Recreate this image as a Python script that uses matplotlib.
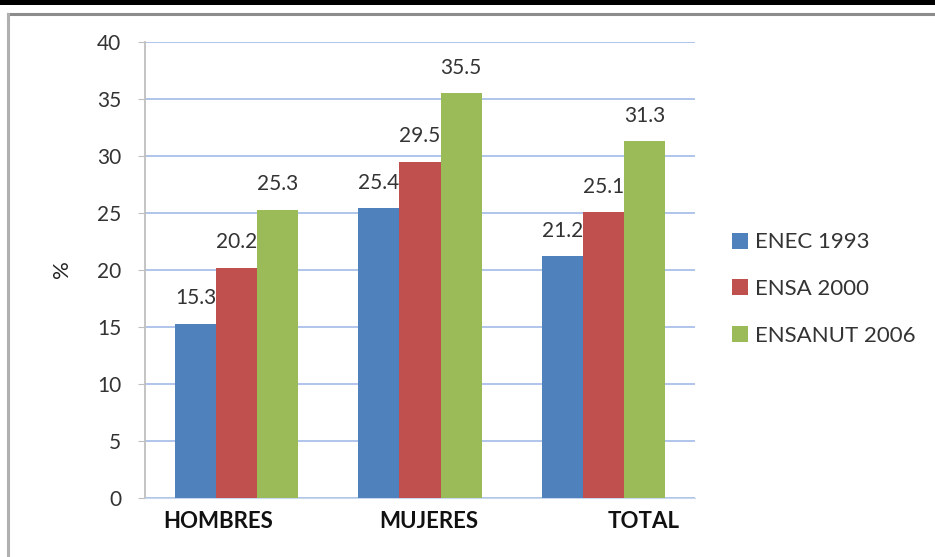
import matplotlib
matplotlib.use("Agg")
import matplotlib.pyplot as plt
from matplotlib.patches import Rectangle
from matplotlib.lines import Line2D
from matplotlib.transforms import ScaledTranslation
import numpy as np

plt.rcParams['font.family'] = ['Lato', 'DejaVu Sans']

categories = ["HOMBRES", "MUJERES", "TOTAL"]
series_names = ["ENEC 1993", "ENSA 2000", "ENSANUT 2006"]
enec_1993 = [15.3, 25.4, 21.2]
ensa_2000 = [20.2, 29.5, 25.1]
ensanut_2006 = [25.3, 35.5, 31.3]
colors = ["#4F81BD", "#C0504D", "#9BBB59"]
y_ticks = [0, 5, 10, 15, 20, 25, 30, 35, 40]

W, H = 935, 557
fig = plt.figure(figsize=(W / 100, H / 100), dpi=100)
fig.patch.set_facecolor("white")

# outer decorations: black band on top and grey frame
fig.add_artist(Rectangle((0, 1 - 5 / H), 1, 5 / H, transform=fig.transFigure,
                         facecolor="black", edgecolor="none"))
fig.add_artist(Line2D([8 / W, 1], [1 - 13.5 / H, 1 - 13.5 / H], transform=fig.transFigure,
                      color="#8C8C8C", lw=2.2))
fig.add_artist(Line2D([8 / W, 8 / W], [0, 1 - 13.5 / H], transform=fig.transFigure,
                      color="#B0B0B0", lw=2.2))

ax = fig.add_axes([145 / W, 1 - 498 / H, 550 / W, 456 / H])
x = np.arange(len(categories))
width = 0.224
for i, (vals, name, col) in enumerate(zip([enec_1993, ensa_2000, ensanut_2006], series_names, colors)):
    pos = x + (i - 1) * width
    ax.bar(pos, vals, width, color=col, label=name, zorder=3)
    for xp, v in zip(pos, vals):
        ax.annotate(f"{v:.1f}", (xp, v), xytext=(0, 11), textcoords="offset points",
                    ha="center", va="bottom", fontsize=15, color="#333333")

ax.set_xlim(-0.5, 2.5)
ax.set_ylim(0, 40)
ax.set_yticks(y_ticks)
ax.set_yticklabels([str(t) for t in y_ticks], fontsize=15, color="#333333")
ax.grid(axis="y", color="#A9C0E8", lw=1.3, zorder=0)
ax.set_axisbelow(True)
for s in ["top", "right"]:
    ax.spines[s].set_visible(False)
ax.spines["bottom"].set_color("#C8D6EE")
ax.spines["left"].set_color("#BFBFBF")
ax.spines["left"].set_linewidth(1.3)
ax.tick_params(axis="y", length=5, color="#BFBFBF", pad=12)
ax.tick_params(axis="x", length=0, pad=9)

ax.set_xticks(x)
ax.set_xticklabels(categories, fontsize=16, fontweight="bold", color="#111111")
label_shift_px = [-18, 9, 40]
for lab, dx in zip(ax.get_xticklabels(), label_shift_px):
    lab.set_transform(lab.get_transform() + ScaledTranslation(dx / 100, 0, fig.dpi_scale_trans))

ax.text(-83 / 550, 0.502, "%", transform=ax.transAxes, rotation=90,
        ha="center", va="center", fontsize=16, color="#222222")

ax.legend(loc="center left", bbox_to_anchor=(1.03, 0.458), frameon=False,
          fontsize=16, handlelength=0.72, handleheight=0.72, labelspacing=1.2,
          handletextpad=0.35, labelcolor="#333333")

fig.savefig("out.png", dpi=100, facecolor="white")
